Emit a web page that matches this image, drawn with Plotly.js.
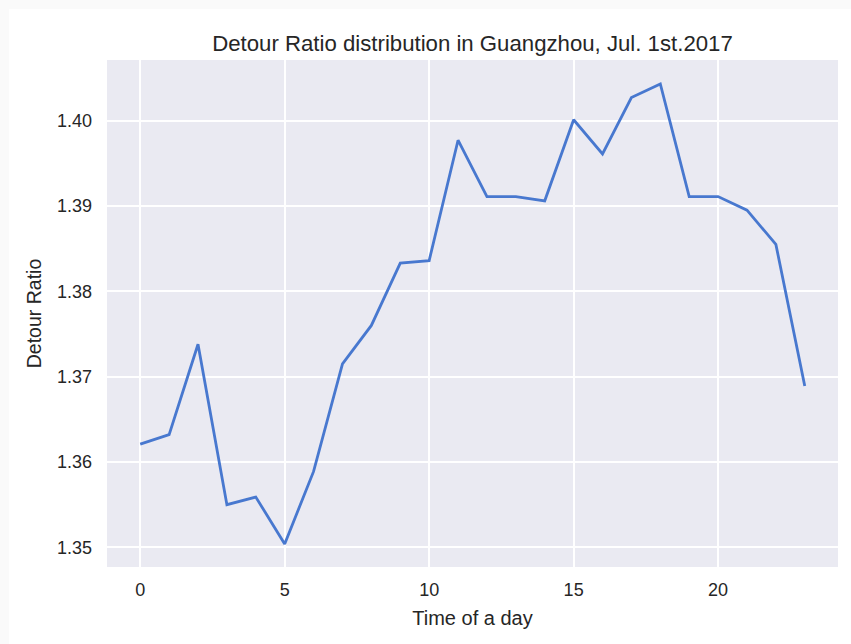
<!DOCTYPE html>
<html>
<head>
<meta charset="utf-8">
<script src="https://cdn.plot.ly/plotly-3.0.1.min.js"></script>
<style>
  html, body { margin: 0; padding: 0; background: #fafafa; width: 851px; height: 644px; overflow: hidden; }
  #chart { position: absolute; left: 9px; top: 9px; width: 842px; height: 635px; background: #ffffff; }
</style>
</head>
<body>
<div id="chart"></div>
<script>
// Hour of the day (0-23)
const hours = [0, 1, 2, 3, 4, 5, 6, 7, 8, 9, 10, 11, 12, 13, 14, 15, 16, 17, 18, 19, 20, 21, 22, 23];

// Mean detour ratio per hour
const detourRatio = [
  1.3621, 1.3632, 1.3738, 1.3550, 1.3559, 1.3504, 1.3589, 1.3715,
  1.3760, 1.3833, 1.3836, 1.3977, 1.3911, 1.3911, 1.3906, 1.4001,
  1.3961, 1.4027, 1.4043, 1.3911, 1.3911, 1.3895, 1.3855, 1.3689
];

const xTicks = [0, 5, 10, 15, 20];
const yTicks = [1.35, 1.36, 1.37, 1.38, 1.39, 1.40];
const yTickText = ['1.35', '1.36', '1.37', '1.38', '1.39', '1.40'];

const textColor = '#262626';
const fontFamily = '"Liberation Sans", Arial, sans-serif';

const trace = {
  x: hours,
  y: detourRatio,
  type: 'scatter',
  mode: 'lines',
  line: { color: '#4878cf', width: 2.8 },
  hoverinfo: 'x+y'
};

const layout = {
  width: 842,
  height: 635,
  margin: { l: 98, r: 13, t: 50.5, b: 77, pad: 0 },
  paper_bgcolor: '#ffffff',
  plot_bgcolor: '#eaeaf2',
  showlegend: false,
  font: { family: fontFamily, color: textColor },
  title: {
    text: 'Detour Ratio distribution in Guangzhou, Jul. 1st.2017',
    font: { size: 22.2, color: textColor, family: fontFamily },
    x: 0.5, xref: 'paper', xanchor: 'center',
    y: 1 - 34 / 635, yref: 'container', yanchor: 'middle'
  },
  xaxis: {
    range: [-1.15, 24.15],
    tickvals: xTicks,
    ticktext: xTicks.map(String),
    showgrid: true,
    gridcolor: '#ffffff',
    gridwidth: 1.8,
    zeroline: false,
    showline: false,
    ticks: '',
    ticklabelstandoff: 10,
    tickfont: { size: 18, color: textColor, family: fontFamily },
    title: { text: 'Time of a day', font: { size: 20, color: textColor, family: fontFamily }, standoff: 11 }
  },
  yaxis: {
    range: [1.3477, 1.4071],
    tickvals: yTicks,
    ticktext: yTickText,
    showgrid: true,
    gridcolor: '#ffffff',
    gridwidth: 1.8,
    zeroline: false,
    showline: false,
    ticks: '',
    ticklabelstandoff: 14,
    tickfont: { size: 18, color: textColor, family: fontFamily },
    title: { text: 'Detour Ratio', font: { size: 19.5, color: textColor, family: fontFamily }, standoff: 10 }
  }
};

Plotly.newPlot('chart', [trace], layout, { staticPlot: true, displayModeBar: false });
</script>
</body>
</html>
